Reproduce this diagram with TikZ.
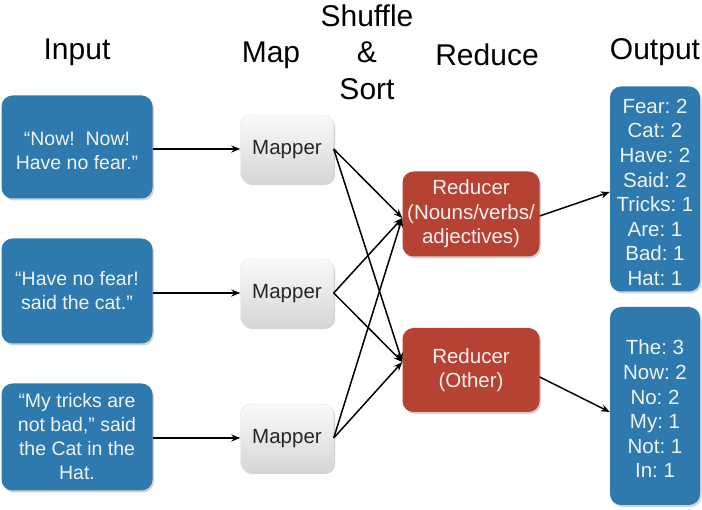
\documentclass[tikz,border=0pt]{standalone}
\usepackage{fontspec}
\setmainfont{Liberation Sans}
\usetikzlibrary{shadows,arrows.meta}
\definecolor{boxblue}{RGB}{46,121,173}
\definecolor{boxred}{RGB}{181,66,50}
\definecolor{mapgrayA}{RGB}{250,250,250}
\definecolor{mapgrayB}{RGB}{214,214,214}
\frenchspacing
\newcommand{\toplift}{\rule{0pt}{21pt}}
\tikzset{
  box/.style={rounded corners=11pt, align=center, inner sep=0pt,
    drop shadow={shadow xshift=1.5pt, shadow yshift=-2pt, opacity=0.35}},
  inbox/.style={box, fill=boxblue, text=white!92!boxblue,
    font=\fontsize{19.5}{24}\selectfont},
  outbox/.style={inbox, font=\fontsize{20.5}{24.6}\selectfont},
  mapbox/.style={box, rounded corners=10pt, top color=mapgrayA, bottom color=mapgrayB,
    draw=black!12, text=black!85, minimum width=93pt, minimum height=68pt,
    font=\fontsize{20.5}{22}\selectfont},
  redbox/.style={box, fill=boxred, text=white!92!boxred,
    minimum width=137pt, minimum height=85pt,
    font=\fontsize{20.5}{24.5}\selectfont},
  header/.style={align=center, font=\fontsize{30}{36.5}\selectfont},
  flow/.style={-{Stealth[length=9pt,width=7pt]}, line width=1.5pt}
}
\begin{document}
\begin{tikzpicture}[x=1pt,y=-1pt]
\useasboundingbox (0,0) rectangle (702,510);

% column headings
\node[header] (hin)  at (77,52)  {Input};
\node[header] (hmap) at (271,55) {Map};
\node[header] (hss)  at (367,52) {Shuffle\\\&\\Sort};
\node[header] (hred) at (487,55) {Reduce};
\node[header] (hout) at (655,52) {Output};

% input splits
\node[inbox, minimum width=151pt, minimum height=103pt] (in1) at (77,147)
  {\toplift\char"201C Now!\ \ Now!\\Have no fear.\char"201D};
\node[inbox, minimum width=151pt, minimum height=105pt] (in2) at (77,291)
  {\char"201C Have no fear!\\said the cat.\char"201D};
\node[inbox, minimum width=151pt, minimum height=107pt] (in3) at (77,437)
  {\char"201C My tricks are\\not bad,\char"201D\ said\\the Cat in the\\Hat.};

% mappers
\node[mapbox, text depth=3pt] (m1) at (287,149) {Mapper};
\node[mapbox, text depth=3pt] (m2) at (287,293) {Mapper};
\node[mapbox, text depth=3pt] (m3) at (287,438) {Mapper};

% reducers
\node[redbox] (r1) at (471,214) {Reducer\\(Nouns/verbs/\\adjectives)};
\node[redbox, minimum height=84pt] (r2) at (471,370) {Reducer\\(Other)};

% outputs
\node[outbox, minimum width=90pt, minimum height=205pt] (o1) at (655,189)
  {\toplift Fear: 2\\Cat: 2\\Have: 2\\Said: 2\\Tricks: 1\\Are: 1\\Bad: 1\\Hat: 1};
\node[outbox, minimum width=90pt, minimum height=198pt] (o2) at (655,406)
  {\toplift The: 3\\Now: 2\\No: 2\\My: 1\\Not: 1\\In: 1};

% input -> map
\draw[flow] (in1.east |- m1) -- (m1.west);
\draw[flow] (in2.east |- m2) -- (m2.west);
\draw[flow] (in3.east |- m3) -- (m3.west);

% shuffle & sort
\coordinate (r1in) at ([yshift=-4pt]r1.west);
\coordinate (r2in) at ([yshift=8pt]r2.west);
\foreach \m in {m1,m2,m3}{
  \draw[flow] (\m.east) -- (r1in);
  \draw[flow] (\m.east) -- (r2in);
}

% reduce -> output
\draw[flow] ([yshift=-2pt]r1.east) -- ([yshift=-3pt]o1.west);
\draw[flow] ([yshift=-7pt]r2.east) -- ([yshift=-6pt]o2.west);
\end{tikzpicture}
\end{document}
